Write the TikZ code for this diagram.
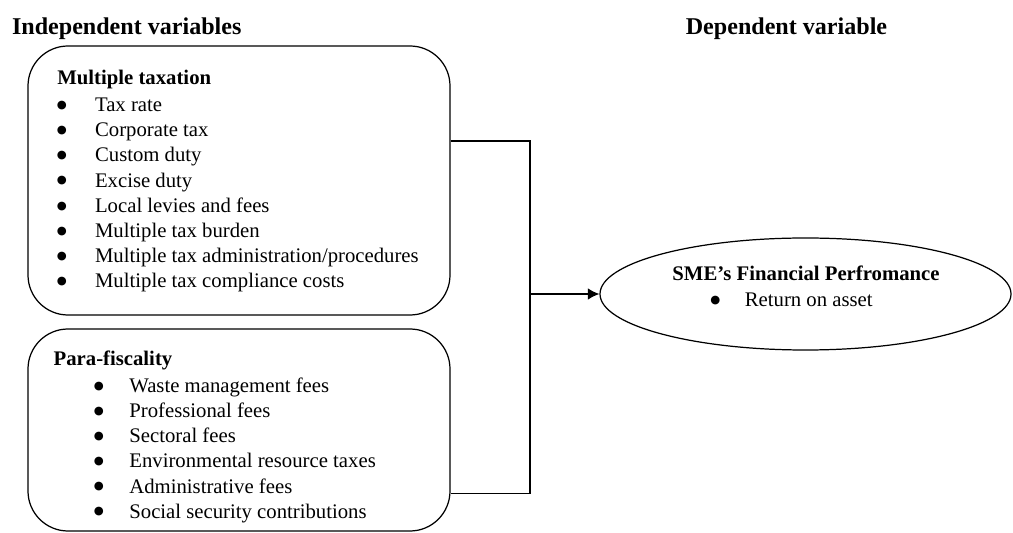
\documentclass[tikz,border=0pt]{standalone}
\usepackage{fontspec}
\setmainfont{Liberation Serif}
\newfontfamily\dotfont{DejaVu Sans}
\usetikzlibrary{shapes.geometric,arrows.meta}

\newcommand{\bul}{\raisebox{1.8pt}{\dotfont\fontsize{6.5}{6.5}\selectfont ●}}

\begin{document}
\begin{tikzpicture}[
    every node/.style={font=\fontsize{11.8}{14.3}\selectfont, inner sep=0pt},
    head/.style={font=\fontsize{13.7}{16}\selectfont\bfseries},
    title/.style={font=\fontsize{11.8}{14.3}\selectfont\bfseries},
    varbox/.style={draw, rounded corners=0.8cm, line width=0.7pt},
    link/.style={line width=0.7pt},
  ]
        \useasboundingbox (0, 0) rectangle (20.26, -10.66);

        % headings
        \node[head, anchor=base west] (indep) at (0.234, -0.69) {Independent variables};
        \node[head, anchor=base] (dep) at (15.73, -0.70) {Dependent variable};

        % independent variables
        \node[varbox, minimum width=8.44cm, minimum height=5.38cm] (taxbox) at (4.78, -3.61) {};
        \node[title, anchor=base west] (taxhead) at (1.14, -1.70) {Multiple taxation};
        \node[anchor=base west] (taxlist) at (1.13, -2.234) {\begin{tabular}[t]{@{}p{0.764cm}@{}l@{}}
            \bul & Tax rate\\
            \bul & Corporate tax\\
            \bul & Custom duty\\
            \bul & Excise duty\\
            \bul & Local levies and fees\\
            \bul & Multiple tax burden\\
            \bul & Multiple tax administration/procedures\\
            \bul & Multiple tax compliance costs
          \end{tabular}};

        \node[varbox, minimum width=8.44cm, minimum height=4.04cm] (feebox) at (4.78, -8.60) {};
        \node[title, anchor=base west] (feehead) at (1.066, -7.31) {Para-fiscality};
        \node[anchor=base west] (feelist) at (1.87, -7.85) {\begin{tabular}[t]{@{}p{0.71cm}@{}l@{}}
            \bul & Waste management fees\\
            \bul & Professional fees\\
            \bul & Sectoral fees\\
            \bul & Environmental resource taxes\\
            \bul & Administrative fees\\
            \bul & Social security contributions
          \end{tabular}};

        % dependent variable
        \node[draw, ellipse, line width=0.7pt, minimum width=8.22cm, minimum height=2.24cm] (perf) at (16.11, -5.88) {};
        \node[title, anchor=base] (perfhead) at (16.12, -5.62) {SME's Financial Perfromance};
        \node[anchor=base west] (perflist) at (14.20, -6.14) {\begin{tabular}[t]{@{}p{0.69cm}@{}l@{}}
            \bul & Return on asset
          \end{tabular}};

        % connectors
        \coordinate (tx) at (10.6, -2.82);
        \coordinate (fx) at (10.6, -9.87);
        \coordinate (px) at (10.6, -5.88);
        \draw[link] (taxbox.east |- tx) -- (tx) -- (fx) -- (feebox.east |- fx);
        \draw[link, -{Latex[length=6.5pt, width=6.5pt]}] (px) -- (perf.west);
      \end{tikzpicture}
\end{document}
